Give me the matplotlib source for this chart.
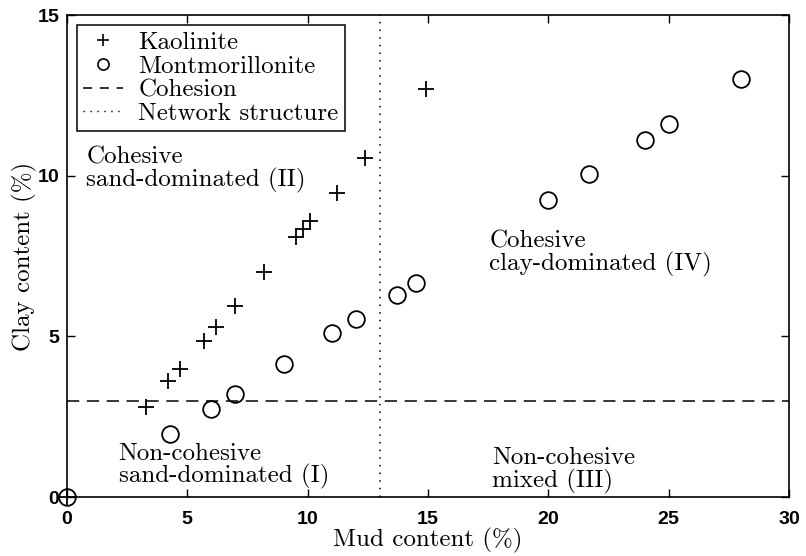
import matplotlib
matplotlib.use("Agg")
import matplotlib.pyplot as plt
from matplotlib.lines import Line2D

# mud / clay content (%) for the two clay types
kaolinite_mud = [0.0, 3.3, 4.2, 4.7, 5.7, 6.2, 7.0, 8.2, 9.5, 9.8, 10.1, 11.2, 12.4, 14.9]
kaolinite_clay = [0.0, 2.8, 3.6, 4.0, 4.85, 5.3, 5.95, 7.0, 8.1, 8.35, 8.6, 9.45, 10.55, 12.7]

montmorillonite_mud = [0.0, 4.3, 6.0, 7.0, 9.0, 11.0, 12.0, 13.7, 14.5, 20.0, 21.7, 24.0, 25.0, 28.0]
montmorillonite_clay = [0.0, 1.95, 2.75, 3.2, 4.15, 5.1, 5.55, 6.3, 6.65, 9.25, 10.05, 11.1, 11.6, 13.0]

cohesion_clay = 3.0
network_mud = 13.0

regions = [
    (0.8, 10.9, "Cohesive\nsand-dominated (II)"),
    (2.15, 1.7, "Non-cohesive\nsand-dominated (I)"),
    (17.55, 8.3, "Cohesive\nclay-dominated (IV)"),
    (17.65, 1.55, "Non-cohesive\nmixed (III)"),
]

serif = ["cmr10", "DejaVu Serif"]
plt.rcParams["font.family"] = serif
plt.rcParams["axes.formatter.use_mathtext"] = True

fig = plt.figure(figsize=(8.06, 5.56), dpi=100)
ax = fig.add_axes([0.083, 0.106, 0.896, 0.867])

ax.plot(kaolinite_mud, kaolinite_clay, "k+", ms=12, mew=1.3, clip_on=False)
ax.plot(montmorillonite_mud, montmorillonite_clay, "o", ms=12, mfc="none",
        mec="k", mew=1.3, clip_on=False)
ax.axhline(cohesion_clay, color="k", lw=1.1, dashes=(8, 5))
ax.axvline(network_mud, color="k", lw=1.1, dashes=(1, 4))

for x, y, s in regions:
    ax.text(x, y, s, fontsize=18, va="top", ha="left", linespacing=0.95)

ax.set_xlim(0, 30)
ax.set_ylim(0, 15)
ax.set_xticks([0, 5, 10, 15, 20, 25, 30])
ax.set_yticks([0, 5, 10, 15])
ax.tick_params(direction="in", top=True, right=True, length=6, width=1,
               labelsize=14)
ax.tick_params(axis="x", pad=10)
ax.tick_params(axis="y", pad=5)
for lab in ax.get_xticklabels() + ax.get_yticklabels():
    lab.set_family("Liberation Sans")
    lab.set_fontweight("bold")
for sp in ax.spines.values():
    sp.set_linewidth(1.2)

ax.set_xlabel("Mud content (%)", fontsize=18, labelpad=0)
ax.set_ylabel("Clay content (%)", fontsize=18, labelpad=0)

handles = [
    Line2D([], [], ls="none", marker="+", color="k", ms=9, mew=1.2),
    Line2D([], [], ls="none", marker="o", mfc="none", mec="k", ms=8, mew=1.2),
    Line2D([], [], color="k", lw=1.1, dashes=(6, 5)),
    Line2D([], [], color="k", lw=1.0, dashes=(1, 4)),
]
labels = ["Kaolinite", "Montmorillonite", "Cohesion", "Network structure"]
leg = ax.legend(handles, labels, loc="upper left", fontsize=18, frameon=True,
                fancybox=False, edgecolor="k", framealpha=1,
                handlelength=1.6, handletextpad=0.6, labelspacing=0.05,
                borderpad=0.25, borderaxespad=0.4)
leg.get_frame().set_linewidth(1.1)

fig.savefig("out.png", dpi=100)
